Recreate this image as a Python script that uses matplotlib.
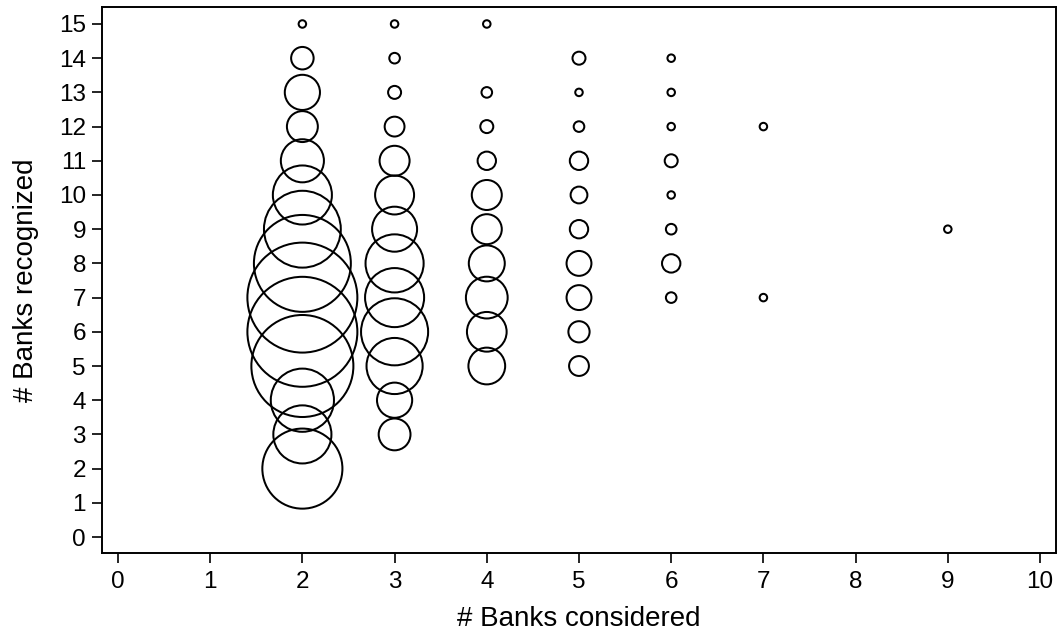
import matplotlib
matplotlib.use("Agg")
import matplotlib.pyplot as plt
import numpy as np

# Data: (# banks considered, # banks recognized, frequency)
considered = [2]*14 + [3]*13 + [4]*10 + [5]*10 + [6]*8 + [7, 7] + [9]
recognized = (list(range(2, 16))
              + list(range(3, 16))
              + [5, 6, 7, 8, 9, 10, 11, 12, 13, 15]
              + list(range(5, 15))
              + list(range(7, 15))
              + [7, 12] + [9])
frequency = ([114, 60, 71, 185, 215, 215, 167, 105, 62, 33, 17, 22, 9, 1]
             + [18, 22, 56, 80, 62, 60, 36, 27, 16, 7, 3, 2, 1]
             + [24, 28, 31, 23, 16, 16, 6, 3, 2, 1]
             + [7, 8, 11, 11, 6, 5, 6, 2, 1, 3]
             + [2, 6, 2, 1, 3, 1, 1, 1]
             + [1, 1] + [1])

x_ticks = list(range(0, 11))
y_ticks = list(range(0, 16))

plt.rcParams['font.family'] = ['Liberation Sans', 'DejaVu Sans']

fig = plt.figure(figsize=(10.6, 6.35), dpi=100)
ax = fig.add_axes([0.0962, 0.1291, 0.9, 0.8599])

sizes = 29.16 * np.array(frequency, dtype=float)
ax.scatter(considered, recognized, s=sizes, facecolors='none',
           edgecolors='black', linewidths=1.45, clip_on=False, zorder=3)

ax.set_xlim(-0.1735, 10.173)
ax.set_ylim(-0.468, 15.497)
ax.set_xticks(x_ticks)
ax.set_yticks(y_ticks)
ax.tick_params(axis='both', direction='out', length=7, width=1.2,
               labelsize=17.5, pad=4.5, top=False, right=False)
ax.tick_params(axis='x', pad=6)
for sp in ax.spines.values():
    sp.set_linewidth(1.4)

ax.set_xlabel('# Banks considered', fontsize=20, labelpad=9)
ax.set_ylabel('# Banks recognized', fontsize=20, labelpad=14)

fig.savefig('out.png', dpi=100)
